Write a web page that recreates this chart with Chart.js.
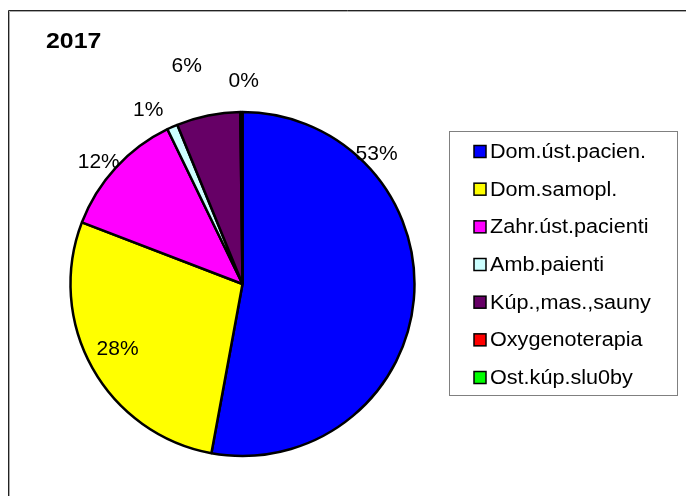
<!DOCTYPE html>
<html>
<head>
<meta charset="utf-8">
<script src="https://cdn.jsdelivr.net/npm/chart.js@4/dist/chart.umd.min.js"></script>
<style>
  body { margin: 0; background: #fff; }
</style>
</head>
<body>
<canvas id="myChart" width="686" height="496"></canvas>
<script>
const title = '2017';
const categories = ['Dom.úst.pacien.', 'Dom.samopl.', 'Zahr.úst.pacienti', 'Amb.paienti', 'Kúp.,mas.,sauny', 'Oxygenoterapia', 'Ost.kúp.slu0by'];
const values = [53, 28, 12, 1, 6, 0, 0.2];
const colors = ['#0000ff', '#ffff00', '#ff00ff', '#ccffff', '#660066', '#ff0000', '#00ff00'];

// where each % label sits: [angle shift in degrees from slice middle, distance as part of radius]
const labelPlace = [[-49.3, 1.085], [1.6, 0.82], [-2.4, 1.094], [-4.4, 1.15], [-2.9, 1.306], [0, 1.2], [0.7, 1.18]];

const frame = {
  id: 'frame',
  beforeDraw(chart) {
    const c = chart.ctx;
    c.save();
    c.fillStyle = '#fff';
    c.fillRect(0, 0, chart.width, chart.height);
    c.lineWidth = 1;
    c.strokeStyle = '#222';
    c.beginPath();
    c.moveTo(8.5, chart.height); c.lineTo(8.5, 10.5); c.lineTo(chart.width, 10.5);
    c.stroke();
    c.strokeStyle = '#aaa';
    c.beginPath();
    c.moveTo(9.5, chart.height); c.lineTo(9.5, 11.5); c.lineTo(chart.width, 11.5);
    c.stroke();
    // title
    c.fillStyle = '#000';
    c.font = 'bold 22px "Liberation Sans", Arial, sans-serif';
    c.textBaseline = 'alphabetic';
    c.translate(46, 48);
    c.scale(1.13, 1);
    c.fillText(title, 0, 0);
    c.restore();
  },
  afterDatasetsDraw(chart) {
    const c = chart.ctx;
    const meta = chart.getDatasetMeta(0);
    const data = chart.data.datasets[0].data;
    const total = data.reduce((a, b) => a + b, 0);
    c.save();
    c.fillStyle = '#000';
    c.font = '21px "Liberation Sans", Arial, sans-serif';
    c.textAlign = 'center';
    c.textBaseline = 'middle';
    meta.data.forEach((arc, i) => {
      if (!data[i]) return;
      const p = arc.getProps(['x', 'y', 'startAngle', 'endAngle', 'outerRadius'], true);
      const a = (p.startAngle + p.endAngle) / 2 + labelPlace[i][0] * Math.PI / 180;
      const d = p.outerRadius * labelPlace[i][1];
      c.fillText(Math.round(data[i] / total * 100) + '%', p.x + d * Math.cos(a), p.y + d * Math.sin(a));
    });
    c.restore();

    // legend box
    c.save();
    c.strokeStyle = '#808080';
    c.lineWidth = 1;
    c.strokeRect(449.5, 131.5, 228, 264);
    c.font = '20px "Liberation Sans", Arial, sans-serif';
    c.textBaseline = 'middle';
    chart.data.labels.forEach((lab, i) => {
      const cy = 151.5 + i * 37.67;
      c.fillStyle = colors[i];
      c.fillRect(474, cy - 6, 12, 12);
      c.strokeStyle = '#000';
      c.lineWidth = 1.5;
      c.strokeRect(474, cy - 6, 12, 12);
      c.fillStyle = '#000';
      c.save();
      c.translate(490, cy + 1);
      c.scale(1.08, 1);
      c.fillText(lab, 0, 0);
      c.restore();
    });
    c.restore();
  }
};

const ctx = document.getElementById('myChart').getContext('2d');
new Chart(ctx, {
  type: 'pie',
  data: {
    labels: categories,
    datasets: [{
      data: values,
      backgroundColor: colors,
      borderColor: '#000',
      borderWidth: 2.5
    }]
  },
  options: {
    responsive: false,
    animation: false,
    devicePixelRatio: 1,
    radius: 172,
    layout: { padding: { left: 70, right: 271, top: 112, bottom: 40 } },
    plugins: {
      legend: { display: false },
      tooltip: { enabled: false }
    }
  },
  plugins: [frame]
});
</script>
</body>
</html>
